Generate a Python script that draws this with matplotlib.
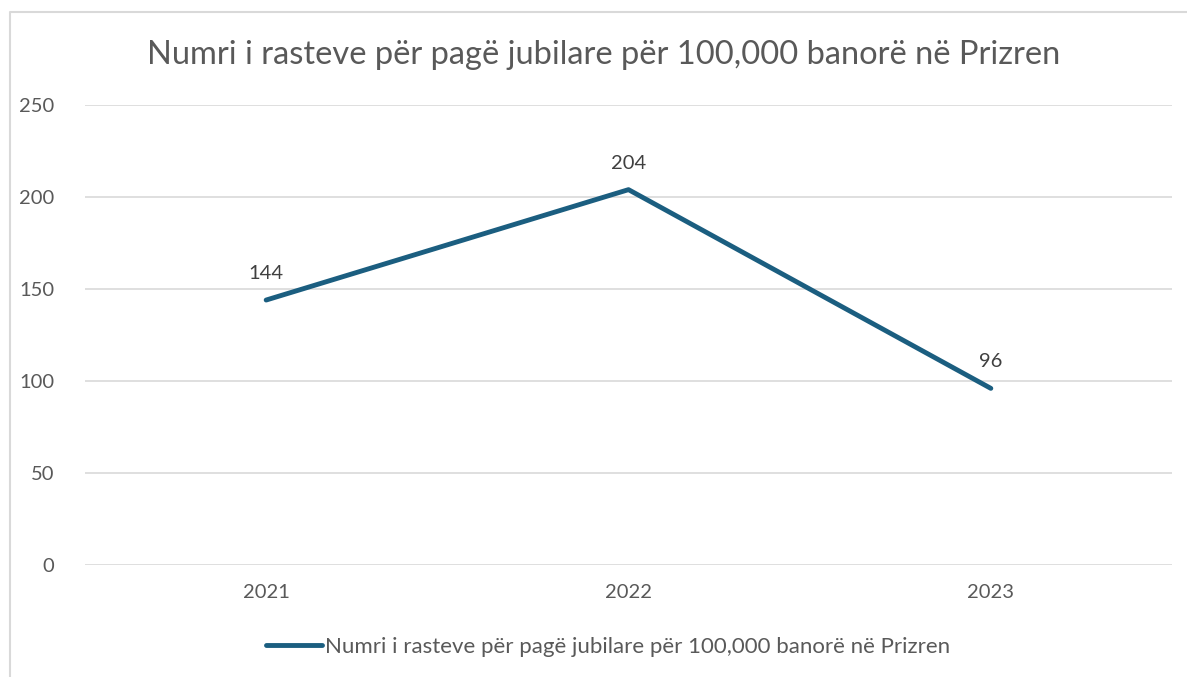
import matplotlib
matplotlib.use('Agg')
import matplotlib.pyplot as plt
from matplotlib.lines import Line2D

# ─── Data ──────────────────────────────────────────────────────
years = ['2021', '2022', '2023']
cases = [144, 204, 96]
series_name = 'Numri i rasteve për pagë jubilare për 100,000 banorë në Prizren'
title = 'Numri i rasteve për pagë jubilare për 100,000 banorë në Prizren'
yticks = [0, 50, 100, 150, 200, 250]

# ─── Style ─────────────────────────────────────────────────────
plt.rcParams['font.family'] = ['Lato', 'DejaVu Sans']
LINE_COLOR = '#1B5E80'
TEXT_GRAY = '#595959'
LABEL_DARK = '#404040'
GRID_GRAY = '#D9D9D9'

W, H = 1187, 677
fig = plt.figure(figsize=(W / 100, H / 100), dpi=100)
ax = fig.add_axes([85 / W, 1 - 565 / H, (1172 - 85) / W, (565 - 105) / H])

x = list(range(len(years)))
ax.plot(x, cases, color=LINE_COLOR, lw=3.5, solid_capstyle='round',
        solid_joinstyle='round', zorder=3)

for xi, v in zip(x, cases):
    ax.annotate(str(v), (xi, v), xytext=(0, 13), textcoords='offset points',
                ha='center', va='bottom', fontsize=14.5, color=LABEL_DARK)

ax.set_xlim(-0.5, len(years) - 0.5)
ax.set_ylim(0, 250)
ax.set_yticks(yticks)
ax.set_xticks(x)
ax.set_xticklabels(years)
ax.tick_params(axis='both', length=0, labelsize=14.5, colors=TEXT_GRAY)
ax.tick_params(axis='y', pad=22)
ax.tick_params(axis='x', pad=14)
ax.grid(axis='y', color=GRID_GRAY, lw=1.2)
ax.set_axisbelow(True)
for s in ax.spines.values():
    s.set_visible(False)

fig.text(604 / W, 1 - 55 / H, title, ha='center', va='center',
         fontsize=23.5, color=TEXT_GRAY)

handle = Line2D([], [], color=LINE_COLOR, lw=3.5, solid_capstyle='round')
fig.legend([handle], [series_name], loc='center', bbox_to_anchor=(608 / W, 1 - 647 / H),
           frameon=False, fontsize=16, handlelength=2.5, handletextpad=0.15,
           labelcolor=TEXT_GRAY)

# outer chart border (top and left visible)
fig.add_artist(Line2D([10 / W, 10 / W, 1.0], [0.0, 1 - 12 / H, 1 - 12 / H],
                      transform=fig.transFigure, color='#D9D9D9', lw=1.5))

fig.savefig('out.png', dpi=100, facecolor='white')
